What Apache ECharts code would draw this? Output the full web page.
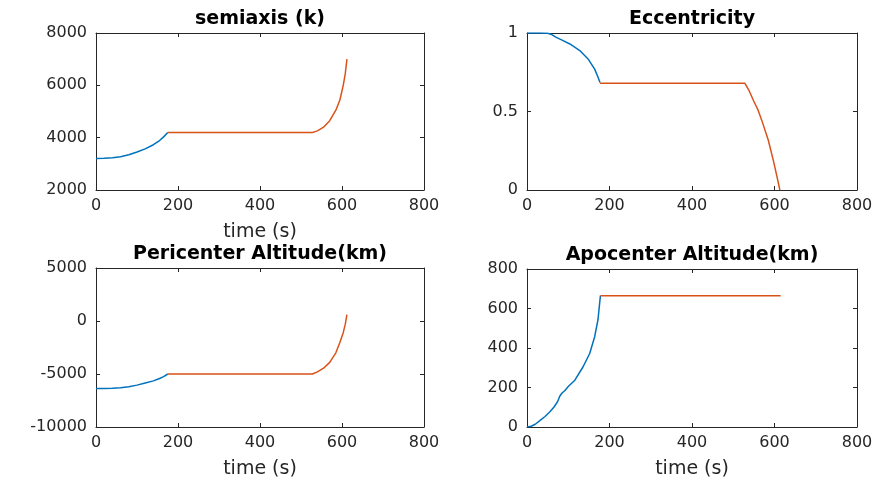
<!DOCTYPE html>
<html>
<head>
<meta charset="utf-8">
<script src="https://cdn.jsdelivr.net/npm/echarts@6/dist/echarts.min.js"></script>
<style>
  html, body { margin: 0; padding: 0; background: #fff; }
  #chart { width: 879px; height: 481px; }
</style>
</head>
<body>
<div id="chart"></div>
<script>
'use strict';
// values: blue = powered phase, orange = second phase
const semiBurnT = [0, 20, 40, 60, 80, 100, 120, 140, 155, 165, 175];
const semiBurnV = [3200, 3210, 3230, 3270, 3350, 3450, 3570, 3730, 3890, 4030, 4200];
const semiCoastT = [175, 300, 400, 528, 540, 555, 570, 585, 595, 603, 608, 612];
const semiCoastV = [4200, 4200, 4200, 4200, 4260, 4400, 4650, 5050, 5450, 6000, 6450, 7000];

const eccBurnT = [0, 30, 50, 60, 71, 85, 104, 128, 148, 164, 172, 177];
const eccBurnV = [1, 1, 0.998, 0.99, 0.972, 0.955, 0.93, 0.888, 0.835, 0.77, 0.72, 0.685];
const eccCoastT = [177, 300, 400, 528, 538, 549, 560, 569, 585, 597, 606, 613];
const eccCoastV = [0.68, 0.68, 0.68, 0.68, 0.635, 0.57, 0.51, 0.445, 0.317, 0.19, 0.085, 0];

const periBurnT = [0, 20, 40, 60, 80, 100, 120, 140, 155, 165, 175];
const periBurnV = [-6370, -6365, -6345, -6300, -6200, -6050, -5850, -5650, -5420, -5250, -5000];
const periCoastT = [175, 300, 400, 528, 540, 555, 570, 585, 595, 603, 608, 612];
const periCoastV = [-5000, -5000, -5000, -5000, -4800, -4450, -3900, -3000, -2000, -1100, -300, 600];

const apoBurnT = [0, 10, 20, 31, 43, 55, 65, 74, 80, 85, 92, 100, 116, 136, 152, 164, 172, 176, 178];
const apoBurnV = [0, 4, 14, 32, 52, 76, 100, 128, 158, 172, 185, 205, 237, 305, 372, 457, 542, 625, 665];
const apoCoastT = [178, 300, 400, 500, 615];
const apoCoastV = [665, 665, 665, 665, 665];

const xTicks = { min: 0, max: 800, interval: 200 };
const titles = ['semiaxis (k)', 'Eccentricity', 'Pericenter Altitude(km)', 'Apocenter Altitude(km)'];
const yRanges = [
  { min: 2000, max: 8000, interval: 2000 },
  { min: 0, max: 1, interval: 0.5 },
  { min: -10000, max: 5000, interval: 5000 },
  { min: 0, max: 800, interval: 200 }
];
const xNames = ['time (s)', '', 'time (s)', 'time (s)'];

const BLUE = '#0072BD';
const ORANGE = '#D95319';
const AX = '#262626';
const FONT = 'DejaVu Sans';

function zip(t, v) {
  return t.map((x, i) => [x, v[i]]);
}

const grids = [
  { left: 96, top: 33, width: 328, height: 157 },
  { left: 527, top: 33, width: 330, height: 157 },
  { left: 96, top: 268, width: 328, height: 159 },
  { left: 527, top: 269, width: 330, height: 158 }
];

const lines = [
  [semiBurnT, semiBurnV, semiCoastT, semiCoastV],
  [eccBurnT, eccBurnV, eccCoastT, eccCoastV],
  [periBurnT, periBurnV, periCoastT, periCoastV],
  [apoBurnT, apoBurnV, apoCoastT, apoCoastV]
];

let xAxis = [], yAxis = [], series = [], graphic = [];
const plain = v => String(v);

grids.forEach(function (g, i) {
  // bottom / left axes with labels
  xAxis.push({
    gridIndex: i, type: 'value', position: 'bottom',
    min: xTicks.min, max: xTicks.max, interval: xTicks.interval,
    name: xNames[i], nameLocation: 'middle', nameGap: 33,
    nameTextStyle: { color: AX, fontSize: 19, fontFamily: FONT },
    axisLine: { show: true, onZero: false, lineStyle: { color: AX, width: 1 } },
    axisTick: { show: true, inside: true, length: 4, lineStyle: { color: AX } },
    axisLabel: { color: AX, fontSize: 16, fontFamily: FONT, margin: 8, formatter: plain },
    splitLine: { show: false }
  });
  // top mirror axis
  xAxis.push({
    gridIndex: i, type: 'value', position: 'top',
    min: xTicks.min, max: xTicks.max, interval: xTicks.interval,
    axisLine: { show: true, onZero: false, lineStyle: { color: AX, width: 1 } },
    axisTick: { show: true, inside: true, length: 4, lineStyle: { color: AX } },
    axisLabel: { show: false },
    splitLine: { show: false }
  });
  const yr = yRanges[i];
  yAxis.push({
    gridIndex: i, type: 'value', position: 'left',
    min: yr.min, max: yr.max, interval: yr.interval,
    axisLine: { show: true, onZero: false, lineStyle: { color: AX, width: 1 } },
    axisTick: { show: true, inside: true, length: 4, lineStyle: { color: AX } },
    axisLabel: { color: AX, fontSize: 16, fontFamily: FONT, margin: 9, formatter: plain },
    splitLine: { show: false }
  });
  yAxis.push({
    gridIndex: i, type: 'value', position: 'right',
    min: yr.min, max: yr.max, interval: yr.interval,
    axisLine: { show: true, onZero: false, lineStyle: { color: AX, width: 1 } },
    axisTick: { show: true, inside: true, length: 4, lineStyle: { color: AX } },
    axisLabel: { show: false },
    splitLine: { show: false }
  });

  const d = lines[i];
  series.push({
    type: 'line', xAxisIndex: i * 2, yAxisIndex: i * 2,
    data: zip(d[0], d[1]), showSymbol: false, silent: true,
    lineStyle: { color: BLUE, width: 1.5 }
  });
  series.push({
    type: 'line', xAxisIndex: i * 2, yAxisIndex: i * 2,
    data: zip(d[2], d[3]), showSymbol: false, silent: true,
    lineStyle: { color: ORANGE, width: 1.5 }
  });

  graphic.push({
    type: 'text',
    x: g.left + g.width / 2,
    y: g.top - 14,
    style: {
      text: titles[i], fill: '#000', font: 'bold 19px "' + FONT + '"',
      textAlign: 'center', textVerticalAlign: 'middle'
    }
  });
});

const chart = echarts.init(document.getElementById('chart'));
chart.setOption({
  backgroundColor: '#fff',
  animation: false,
  grid: grids,
  xAxis: xAxis,
  yAxis: yAxis,
  series: series,
  graphic: graphic
});
</script>
</body>
</html>
